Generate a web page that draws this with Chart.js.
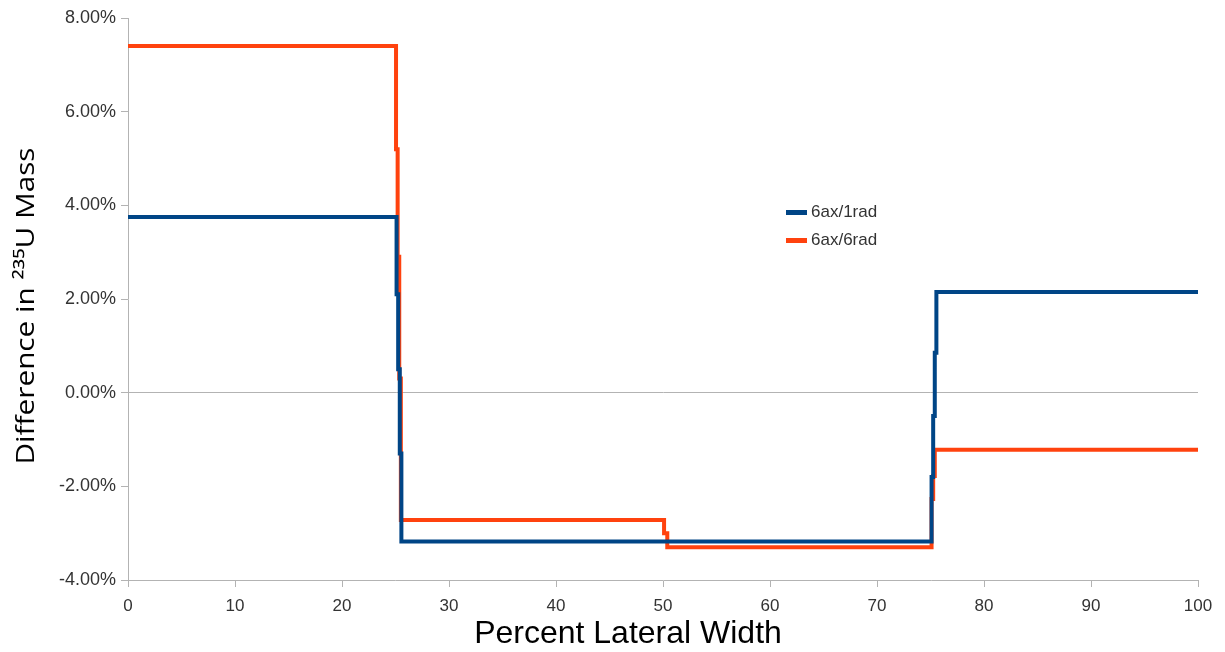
<!DOCTYPE html>
<html>
<head>
<meta charset="utf-8">
<script src="https://cdn.jsdelivr.net/npm/chart.js@4/dist/chart.umd.min.js"></script>
<style>
  body { margin: 0; background: #fff; }
  #wrap { width: 1225px; height: 652px; }
</style>
</head>
<body>
<div id="wrap"><canvas id="chart"></canvas></div>
<script>
// step positions (percent lateral width) and values (percent)
const blueX = [0, 25.1, 25.25, 25.4, 25.55, 75.1, 75.25, 75.4, 75.55, 100]
const blueY = [3.75, 2.1, 0.5, -1.3, -3.18, -1.8, -0.5, 0.85, 2.15, 2.15]
const orangeX = [0, 25.05, 25.2, 25.35, 25.5, 50.1, 50.4, 75.1, 75.25, 75.4, 100]
const orangeY = [7.4, 5.2, 2.9, 0.3, -2.72, -3.0, -3.3, -2.27, -1.78, -1.22, -1.22]
const seriesNames = ["6ax/1rad", "6ax/6rad"]
const seriesColors = ["#004586", "#ff420e"]
const xTicks = [0, 10, 20, 30, 40, 50, 60, 70, 80, 90, 100]
const yTicks = [-4, -2, 0, 2, 4, 6, 8]
const xTitle = "Percent Lateral Width"
const yTitle = "Difference in \u00b2\u00b3\u2075U Mass"

const toPoints = (xs, ys) => xs.map((x, i) => ({ x: x, y: ys[i] }))

// legend drawn inside the plot, like the original
const innerLegend = {
  id: "innerLegend",
  afterDraw(chart) {
    const ctx = chart.ctx
    ctx.save()
    ctx.font = "17px 'Liberation Sans'"
    ctx.textBaseline = "middle"
    chart.data.datasets.forEach((ds, i) => {
      const y = 212 + i * 28
      ctx.fillStyle = ds.borderColor
      ctx.fillRect(786, y - 2, 21, 5)
      ctx.fillStyle = "#333"
      ctx.fillText(ds.label, 811, y)
    })
    ctx.restore()
  }
}

// axis titles, stretched a bit like the original export
const axisTitles = {
  id: "axisTitles",
  afterDraw(chart) {
    const ctx = chart.ctx
    ctx.save()
    ctx.fillStyle = "#000"
    ctx.textAlign = "center"
    ctx.textBaseline = "alphabetic"
    ctx.font = "32px 'Liberation Sans'"
    ctx.fillText(xTitle, 628, 643)

    ctx.translate(34, 306)
    ctx.rotate(-Math.PI / 2)
    ctx.font = "25px 'Open Sans'"
    const w = ctx.measureText(yTitle).width
    ctx.scale(317 / w, 1)
    ctx.fillText(yTitle, 0, 0)
    ctx.restore()
  }
}

new Chart(document.querySelector("#chart"), {
  type: "line",
  data: {
    datasets: [
      {
        label: seriesNames[0],
        data: toPoints(blueX, blueY),
        borderColor: seriesColors[0],
        borderWidth: 4,
        stepped: "before",
        pointRadius: 0,
      },
      {
        label: seriesNames[1],
        data: toPoints(orangeX, orangeY),
        borderColor: seriesColors[1],
        borderWidth: 4,
        stepped: "before",
        pointRadius: 0,
      },
    ]
  },
  plugins: [innerLegend, axisTitles],
  options: {
    responsive: true,
    maintainAspectRatio: false,
    animation: false,
    layout: { padding: { top: 18, right: 27, bottom: 0, left: 0 } },
    plugins: {
      legend: { display: false },
      tooltip: { enabled: false },
    },
    scales: {
      x: {
        type: "linear",
        min: 0,
        max: 100,
        afterBuildTicks: scale => { scale.ticks = xTicks.map(v => ({ value: v })) },
        ticks: { color: "#333", font: { family: "Liberation Sans", size: 17 }, padding: 9, maxRotation: 0 },
        grid: { drawOnChartArea: false, color: "#b3b3b3", tickLength: 7 },
        border: { color: "#b3b3b3" },
        afterFit: scale => { scale.height = 72 },
      },
      y: {
        min: -4,
        max: 8,
        afterBuildTicks: scale => { scale.ticks = yTicks.map(v => ({ value: v })) },
        ticks: {
          color: "#333",
          font: { family: "Liberation Sans", size: 18 },
          padding: 5,
          callback: v => v.toFixed(2) + "%",
        },
        grid: {
          color: ctx => ctx.tick && ctx.tick.value === 0 ? "#b3b3b3" : "rgba(0,0,0,0)",
          tickColor: "#b3b3b3",
          tickLength: 7,
        },
        border: { color: "#b3b3b3" },
        afterFit: scale => { scale.width = 128 },
      },
    }
  }
});
</script>
</body>
</html>
